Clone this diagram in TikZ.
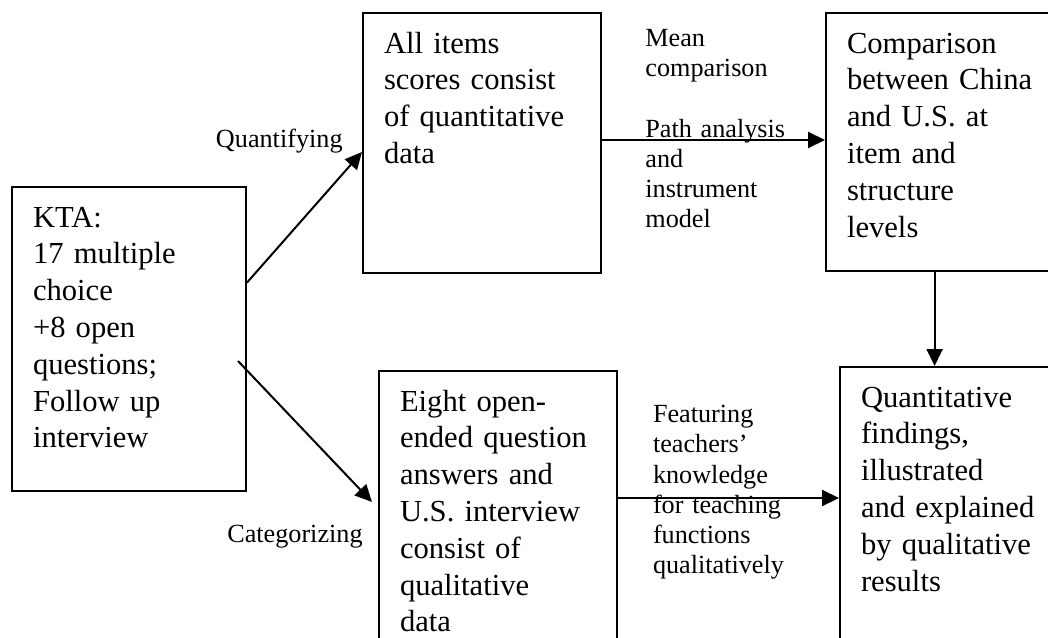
\documentclass[tikz,border=0pt]{standalone}
\usepackage{fontspec}
\setmainfont{Liberation Serif}
\usetikzlibrary{arrows.meta,positioning}
\tikzset{
  flow box/.style={draw,line width=1pt,align=left,text width=98pt,
    inner xsep=10.5pt,inner ysep=4pt,text height=16pt,
    font=\fontsize{15.3pt}{18.4pt}\selectfont},
  flow tag/.style={inner sep=0pt,font=\fontsize{13.1pt}{15.1pt}\selectfont},
  flow note/.style={flow tag,text width=72pt,align=left},
  flow arrow/.style={-{Triangle[length=8.5pt,width=8pt]},line width=1pt}
}

\begin{document}
\begin{tikzpicture}[x=1pt,y=1pt]
\useasboundingbox (0,0) rectangle (524,-318.5);
\clip (0,0) rectangle (524,-318.5);
\node[flow box,text width=96pt,text depth=128pt,anchor=north west] (kta) at (5.5,-93)
  {KTA:\\17 multiple\\choice\\+8 open\\questions;\\Follow up\\interview};
\node[flow box,text depth=106pt,anchor=north west] (items) at (181,-6)
  {All items\\scores consist\\of quantitative\\data};
\node[flow box,text depth=105pt,right=111.5pt of items.north east,anchor=north west] (comp)
  {Comparison\\between China\\and U.S. at\\item and\\structure\\levels};
\node[flow box,text depth=116pt,below right=48pt and 8pt of items.south west] (eight)
  {Eight open-\\ended question\\answers and\\U.S. interview\\consist of\\qualitative\\data};
\node[flow box,text depth=116pt,below right=47pt and 7pt of comp.south west] (findings)
  {Quantitative\\findings,\\illustrated\\and explained\\by qualitative\\results};
% labels on the connectors
\node[flow tag,anchor=base east] (quant) at ([xshift=-9.5pt,yshift=-67.5pt]items.north west) {Quantifying};
\node[flow tag,anchor=base east] (categ) at ([xshift=-7.5pt,yshift=-86.3pt]eight.north west) {Categorizing};
\node[flow note,anchor=base west] (means) at ([xshift=21.5pt,yshift=-17.3pt]items.north east)
  {Mean\\comparison\\[15.1pt]Path analysis\\and\\instrument\\model};
\node[flow note,anchor=base west] (feat) at ([xshift=17.3pt,yshift=-26.3pt]eight.north east)
  {Featuring\\teachers'\\knowledge\\for teaching\\functions\\qualitatively};
% connectors
\draw[flow arrow] ([yshift=-48.3pt]kta.north east) -- ([yshift=-70pt]items.north west);
\draw[flow arrow] ([xshift=-4.5pt,yshift=-87.5pt]kta.north east) -- ([xshift=-3pt,yshift=-66pt]eight.north west);
\coordinate (itemsout) at ([yshift=-64pt]items.north east);
\draw[flow arrow] (itemsout) -- (itemsout -| comp.west);
\coordinate (compout) at ([xshift=54.8pt]comp.south west);
\draw[flow arrow] (compout) -- (compout |- findings.north);
\coordinate (eightout) at ([yshift=-64pt]eight.north east);
\draw[flow arrow] (eightout) -- (eightout -| findings.west);
\end{tikzpicture}
\end{document}
